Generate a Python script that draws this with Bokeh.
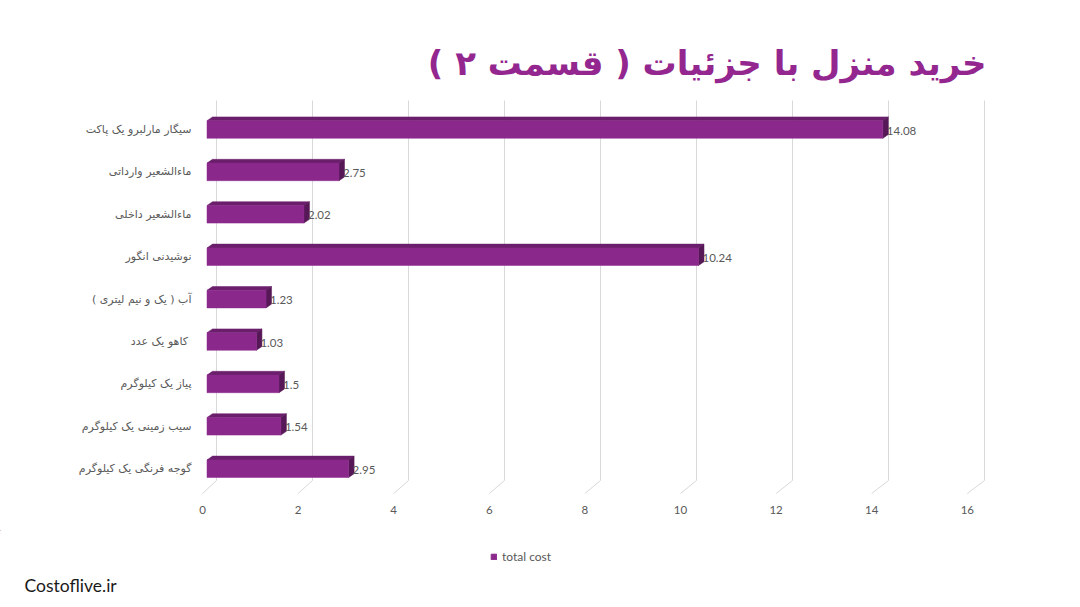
from bokeh.plotting import figure
from bokeh.layouts import column
from bokeh.models import (Range1d, LinearAxis, FixedTicker, Title, Label, Legend, LegendItem,
                          ColumnDataSource)
from bokeh.embed import file_html
from bokeh.resources import INLINE
from bokeh.core.properties import value

# ---------------- data ----------------
categories = [
    "سیگار مارلبرو یک پاکت",
    "ماءالشعیر وارداتی",
    "ماءالشعیر داخلی",
    "نوشیدنی انگور",
    "آب ( یک و نیم لیتری )",
    "کاهو  یک عدد",
    "پیاز یک کیلوگرم",
    "سیب زمینی یک کیلوگرم",
    "گوجه فرنگی یک کیلوگرم",
]
total_cost = [14.08, 2.75, 2.02, 10.24, 1.23, 1.03, 1.5, 1.54, 2.95]
x_ticks = [0, 2, 4, 6, 8, 10, 12, 14, 16]
series_name = "total cost"
title_text = "خرید منزل با جزئیات ( قسمت ۲ )"
footer_text = "Costoflive.ir"

# ---------------- layout constants ----------------
W = 1080
H_MAIN = 530
H_FOOT = 607 - H_MAIN
FL, FR, FT, FB = 200, 1000, 95, 500          # frame edges in px
PX_X = 48.0                                   # px per x unit (bar front plane)
X0_PX = 206.5                                 # px of x=0 at bar front plane
PX_Y = 42.4                                   # px per category step
Y_TOP_PX = 129.0                              # px of top category centre
n = len(categories)
y_end = (n - 1) + (Y_TOP_PX - FT) / PX_Y
y_start = y_end - (FB - FT) / PX_Y
x_start = (FL - X0_PX) / PX_X
x_end = (FR - X0_PX) / PX_X

def dy(py):
    return y_end - (py - FT) / PX_Y

PURPLE = "#8B288C"
PURPLE_TOP = "#6B1E6C"
PURPLE_SIDE = "#561857"
GRID = "#D9D9D9"
TXT = "#595959"

p = figure(width=W, height=H_MAIN, output_backend="svg", toolbar_location=None,
           x_range=Range1d(x_start, x_end), y_range=Range1d(y_start, y_end),
           x_axis_location=None, y_axis_location=None,
           min_border_left=FL, min_border_right=W - FR,
           min_border_top=FT, min_border_bottom=H_MAIN - FB)
p.outline_line_color = None
p.xgrid.visible = False
p.ygrid.visible = False
p.background_fill_color = "white"
p.border_fill_color = "white"
p.frame_align = False

# floor-front range for the x axis labels
floor_x0 = 202.0
floor_px = 47.8
p.extra_x_ranges = {"floor": Range1d((FL - floor_x0) / floor_px, (FR - floor_x0) / floor_px)}

# ---------------- 3D back-wall grid ----------------
back_off = (216.0 - X0_PX) / PX_X
floor_off = (floor_x0 - X0_PX) / PX_X
g_top = dy(100)
g_bend = dy(480)
g_floor = dy(493)
p.segment(x0=[t + back_off for t in x_ticks], y0=[g_top] * len(x_ticks),
          x1=[t + back_off for t in x_ticks], y1=[g_bend] * len(x_ticks),
          line_color=GRID, line_width=1)
p.segment(x0=[t + back_off for t in x_ticks], y0=[g_bend] * len(x_ticks),
          x1=[t * floor_px / PX_X + floor_off for t in x_ticks], y1=[g_floor] * len(x_ticks),
          line_color=GRID, line_width=1)

# ---------------- bars ----------------
ys = [(n - 1) - i for i in range(n)]
bh = 17.6 / PX_Y
ddx = 5.5 / PX_X
ddy = 3.8 / PX_Y

src = ColumnDataSource(dict(y=ys, v=total_cost, cat=categories,
                            lbl=[f"{v:g}" for v in total_cost]))

top_xs, top_ys, side_xs, side_ys = [], [], [], []
for y, v in zip(ys, total_cost):
    yt = y + bh / 2
    yb = y - bh / 2
    top_xs.append([0, v, v + ddx, ddx])
    top_ys.append([yt, yt, yt + ddy, yt + ddy])
    side_xs.append([v, v, v + ddx, v + ddx])
    side_ys.append([yb, yt, yt + ddy, yb + ddy])

p.patches(xs=top_xs, ys=top_ys, fill_color=PURPLE_TOP, line_color=PURPLE_TOP, line_width=0.5)
p.patches(xs=side_xs, ys=side_ys, fill_color=PURPLE_SIDE, line_color=PURPLE_SIDE, line_width=0.5)
p.hbar(y="y", left=0, right="v", height=bh, source=src,
       fill_color=PURPLE, line_color=PURPLE, line_width=0.5)

p.text(x="v", y="y", text="lbl", source=src, x_offset=4, y_offset=1,
       text_align="left", text_baseline="middle",
       text_font=value("Lato"), text_font_size="11.5px", text_color=TXT)

# ---------------- title (above) ----------------
title = Title(text=title_text, align="right", offset=14, standoff=26,
              text_font="DejaVu Sans", text_font_style="bold",
              text_font_size="34px", text_color="#93278F")
p.add_layout(title, "above")

# ---------------- axes ----------------
xaxis = LinearAxis(x_range_name="floor", ticker=FixedTicker(ticks=x_ticks))
xaxis.axis_line_color = None
xaxis.major_tick_line_color = None
xaxis.minor_tick_line_color = None
xaxis.major_tick_out = 0
xaxis.major_label_standoff = 5
xaxis.major_label_text_font = "Lato"
xaxis.major_label_text_font_size = "11.5px"
xaxis.major_label_text_color = TXT
p.add_layout(xaxis, "below")

yaxis = LinearAxis(ticker=FixedTicker(ticks=ys))
yaxis.major_label_overrides = {y: c for y, c in zip(ys, categories)}
yaxis.axis_line_color = None
yaxis.major_tick_line_color = None
yaxis.minor_tick_line_color = None
yaxis.major_tick_out = 0
yaxis.major_label_standoff = 9
yaxis.major_label_text_font = "DejaVu Sans"
yaxis.major_label_text_font_size = "11px"
yaxis.major_label_text_color = TXT
p.add_layout(yaxis, "left")

# ---------------- footer strip: legend + site name ----------------
f = figure(width=W, height=H_FOOT, output_backend="svg", toolbar_location=None,
           x_range=Range1d(0, W), y_range=Range1d(H_FOOT, 0),
           x_axis_location=None, y_axis_location=None,
           min_border=0, min_border_left=0, min_border_right=0,
           min_border_top=0, min_border_bottom=0)
f.outline_line_color = None
f.xgrid.visible = False
f.ygrid.visible = False
f.background_fill_color = "white"
f.border_fill_color = "white"
f.frame_align = False

# legend swatch renderer (its single row lies far outside the visible strip)
legend_glyph = f.hbar(y=[-5000], left=[-5000], right=[-4999], height=1,
                      fill_color=PURPLE, line_color=PURPLE)
legend = Legend(items=[LegendItem(label=series_name, renderers=[legend_glyph])],
                location=(490, H_FOOT - 34), orientation="horizontal",
                glyph_width=7, glyph_height=7, label_standoff=5,
                label_text_font="Lato", label_text_font_size="12px",
                label_text_color=TXT, border_line_color=None,
                background_fill_alpha=0, padding=0, margin=0)
f.add_layout(legend, "center")

f.add_layout(Label(x=24, y=55, text=footer_text, text_align="left",
                   text_baseline="middle", text_font="Lato",
                   text_font_size="17.5px", text_color="#1A1A1A"))

layout = column(p, f, spacing=0)
open("out.html", "w").write(file_html(layout, INLINE))
